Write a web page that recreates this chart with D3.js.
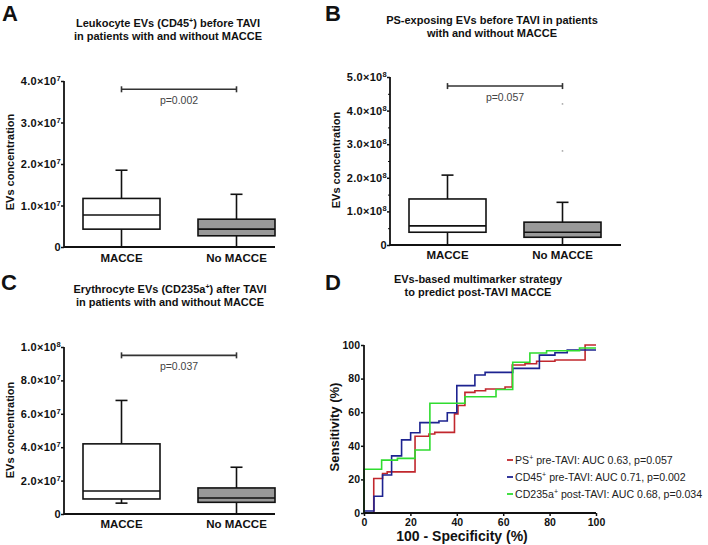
<!DOCTYPE html>
<html><head><meta charset="utf-8">
<script src="https://cdn.jsdelivr.net/npm/d3@7"></script>
<style>
body{margin:0;background:#fff}
svg{display:block;font-family:"Liberation Sans",Arial,sans-serif}
</style>
</head><body>
<svg id="c" width="708" height="545"></svg>
<script>
// ---------------- DATA ----------------
const groups = ["MACCE", "No MACCE"];
// box stats: [lower whisker, Q1, median, Q3, upper whisker]
const boxA_MACCE   = [0, 0.43e7, 0.77e7, 1.17e7, 1.85e7];
const boxA_NoMACCE = [0, 0.27e7, 0.43e7, 0.67e7, 1.27e7];
const boxB_MACCE   = [0, 0.38e8, 0.57e8, 1.37e8, 2.08e8];
const boxB_NoMACCE = [0, 0.23e8, 0.38e8, 0.68e8, 1.27e8];
const outliersB_NoMACCE = [4.2e8, 2.8e8];
const boxC_MACCE   = [0.65e7, 0.9e7, 1.38e7, 4.2e7, 6.8e7];
const boxC_NoMACCE = [0, 0.7e7, 0.96e7, 1.56e7, 2.8e7];

const ticksA = [0, 1e7, 2e7, 3e7, 4e7];
const tickLabelsA = ["0", "1.0×10|7", "2.0×10|7", "3.0×10|7", "4.0×10|7"];
const ticksB = [0, 1e8, 2e8, 3e8, 4e8, 5e8];
const tickLabelsB = ["0", "1.0×10|8", "2.0×10|8", "3.0×10|8", "4.0×10|8", "5.0×10|8"];
const minorTicksB = [0.5e8, 1.5e8, 2.5e8, 3.5e8, 4.5e8];
const ticksC = [0, 2e7, 4e7, 6e7, 8e7, 1e8];
const tickLabelsC = ["0", "2.0×10|7", "4.0×10|7", "6.0×10|7", "8.0×10|7", "1.0×10|8"];

const sigA = 3.8e7, pA = "p=0.002";
const sigB = 4.73e8, pB = "p=0.057";
const sigC = 9.5e7, pC = "p=0.037";

const titleA = ["Leukocyte EVs (CD45|+|) before TAVI", "in patients with and without MACCE"];
const titleB = ["PS-exposing EVs before TAVI in patients", "with and without MACCE"];
const titleC = ["Erythrocyte EVs (CD235a|+|) after TAVI", "in patients with and without MACCE"];
const titleD = ["EVs-based multimarker strategy", "to predict post-TAVI MACCE"];
const yLabelBox = "EVs concentration";

// ROC curves (step corners: x = 100-Specificity %, y = Sensitivity %)
const rocPS = [[0,0],[4.2,20.5],[8,23.5],[10,24.5],[22,45.7],[28,47],[30.5,48],[39,59],[40.5,64],[43.5,71.8],[47.8,72.8],[52.4,73.8],[60.8,75],[63.9,88.1],[69.4,88.8],[74.4,90.3],[82.3,91.1],[95.3,100],[100,100]];
const rocCD45 = [[0,0],[0,1.2],[4.3,10],[8,22.6],[11.9,34],[16.2,43.5],[20.1,47.8],[24.1,53.8],[32.3,54.8],[35.9,59.7],[40,75.8],[47.8,82.1],[52.2,83.7],[64.1,86.1],[75.6,94],[82.3,95.4],[87.6,97],[100,97]];
const rocCD235a = [[0,0],[0,26],[7.6,31.5],[14.4,32.5],[22,37.5],[28.4,65.3],[43.5,69.2],[56.9,73.5],[64.1,89.7],[71.5,95.2],[78.7,96.6],[92.9,98.2],[100,98.2]];
const rocTicks = [0, 20, 40, 60, 80, 100];
const legendLabels = ["PS|+| pre-TAVI: AUC 0.63, p=0.057", "CD45|+| pre-TAVI: AUC 0.71, p=0.002", "CD235a|+| post-TAVI: AUC 0.68, p=0.034"];
const rocColors = ["#c1272d", "#1d2390", "#2fdc2f"];

// ---------------- DRAW ----------------
const svg = d3.select("#c");
const INK = "#111";

function richText(sel, str, supSize, supShift) {
  // "a|b|c" -> b is superscript
  const parts = str.split("|");
  parts.forEach((p, i) => {
    if (!p) return;
    const t = sel.append("tspan").text(p);
    if (i % 2 === 1) t.attr("font-size", supSize).attr("dy", -supShift);
    else if (i > 0) t.attr("dy", supShift);
  });
}

function letter(x, y, s) {
  svg.append("text").attr("x", x).attr("y", y).attr("font-size", 22).attr("font-weight", "bold").attr("fill", INK).text(s);
}
function title(cx, y1, lines) {
  lines.forEach((l, i) => {
    const t = svg.append("text").attr("x", cx).attr("y", y1 + i * 12.5).attr("text-anchor", "middle")
      .attr("font-size", 11).attr("font-weight", "bold").attr("fill", INK);
    richText(t, l, 7, 4);
  });
}
function yLabel(x, cy, s, size) {
  svg.append("text").attr("transform", `translate(${x},${cy}) rotate(-90)`).attr("text-anchor", "middle")
    .attr("font-size", size).attr("font-weight", "bold").attr("fill", INK).text(s);
}

function boxPanel(o) {
  const y = d3.scaleLinear().domain(o.domain).range([o.y0, o.y1]);
  const x = d3.scaleBand().domain(groups).range([o.x0, o.x0 + 230]).paddingInner(0).paddingOuter(0);
  const g = svg.append("g");
  // y axis
  const ax = g.append("g").attr("transform", `translate(${o.x0},0)`)
    .call(d3.axisLeft(y).tickValues(o.ticks).tickSize(3).tickFormat(""));
  ax.select(".domain").remove();
  ax.selectAll(".tick line").attr("stroke", INK).attr("stroke-width", 1.5);
  if (o.minor) {
    g.append("g").attr("transform", `translate(${o.x0},0)`)
      .call(d3.axisLeft(y).tickValues(o.minor).tickSize(2).tickFormat(""))
      .call(s => { s.select(".domain").remove(); s.selectAll(".tick line").attr("stroke", INK).attr("stroke-width", 1); });
  }
  g.append("line").attr("x1", o.x0).attr("x2", o.x0).attr("y1", y(o.domain[0]) + 0.75).attr("y2", y(o.domain[1]))
    .attr("stroke", INK).attr("stroke-width", 1.8);
  g.append("line").attr("x1", o.x0).attr("x2", o.xEnd).attr("y1", y(0)).attr("y2", y(0))
    .attr("stroke", INK).attr("stroke-width", 1.8);
  // tick labels
  o.ticks.forEach((v, i) => {
    const t = g.append("text").attr("x", o.x0 - 3).attr("y", y(v) + 4).attr("text-anchor", "end")
      .attr("font-size", 11).attr("font-weight", "bold").attr("fill", INK).attr("letter-spacing", 0.3);
    richText(t, o.labels[i] + (o.labels[i].includes("|") ? "|" : ""), 7.5, 4);
  });
  // x labels
  groups.forEach(gname => {
    g.append("text").attr("x", x(gname) + x.bandwidth() / 2).attr("y", o.xlabY).attr("text-anchor", "middle")
      .attr("font-size", 11.5).attr("font-weight", "bold").attr("fill", INK).text(gname);
  });
  // boxes
  const bw = 77, cw = 12;
  [[groups[0], o.b1, "#fff"], [groups[1], o.b2, "#999"]].forEach(([gname, s, fill]) => {
    const cx = x(gname) + x.bandwidth() / 2;
    const bg = g.append("g").attr("stroke", INK).attr("stroke-width", 1.6);
    bg.append("line").attr("x1", cx).attr("x2", cx).attr("y1", y(s[0])).attr("y2", y(s[4]));
    bg.append("line").attr("x1", cx - cw / 2).attr("x2", cx + cw / 2).attr("y1", y(s[4])).attr("y2", y(s[4]));
    bg.append("line").attr("x1", cx - cw / 2).attr("x2", cx + cw / 2).attr("y1", y(s[0])).attr("y2", y(s[0]));
    bg.append("rect").attr("x", cx - bw / 2).attr("width", bw).attr("y", y(s[3])).attr("height", y(s[1]) - y(s[3]))
      .attr("fill", fill);
    bg.append("line").attr("x1", cx - bw / 2).attr("x2", cx + bw / 2).attr("y1", y(s[2])).attr("y2", y(s[2]));
  });
  if (o.out) {
    const cx = x(groups[1]) + x.bandwidth() / 2;
    o.out.forEach(v => g.append("circle").attr("cx", cx).attr("cy", y(v)).attr("r", 0.9).attr("fill", "#aaa"));
  }
  // significance bar
  const c1 = x(groups[0]) + x.bandwidth() / 2, c2 = x(groups[1]) + x.bandwidth() / 2;
  const sy = y(o.sig);
  const sg = g.append("g").attr("stroke", "#333").attr("stroke-width", 1.6);
  sg.append("line").attr("x1", c1).attr("x2", c2).attr("y1", sy).attr("y2", sy);
  sg.append("line").attr("x1", c1).attr("x2", c1).attr("y1", sy - 3).attr("y2", sy + 3);
  sg.append("line").attr("x1", c2).attr("x2", c2).attr("y1", sy - 3).attr("y2", sy + 3);
  g.append("text").attr("x", (c1 + c2) / 2).attr("y", sy + 14.5).attr("text-anchor", "middle")
    .attr("font-size", 10.5).attr("fill", "#444").text(o.p);
}

// Panel A
letter(2, 21, "A");
title(168, 27, titleA);
yLabel(14, 162, yLabelBox, 11);
boxPanel({x0: 64, xEnd: 275, y0: 247, y1: 81, domain: [0, 4e7], ticks: ticksA, labels: tickLabelsA,
  b1: boxA_MACCE, b2: boxA_NoMACCE, sig: sigA, p: pA, xlabY: 262});

// Panel B
letter(325, 21, "B");
title(492, 24, titleB);
yLabel(340, 160, yLabelBox, 11);
boxPanel({x0: 390, xEnd: 621, y0: 245, y1: 77, domain: [0, 5e8], ticks: ticksB, labels: tickLabelsB, minor: minorTicksB,
  b1: boxB_MACCE, b2: boxB_NoMACCE, out: outliersB_NoMACCE, sig: sigB, p: pB, xlabY: 259});

// Panel C
letter(1, 290, "C");
title(170, 293, titleC);
yLabel(14, 430, yLabelBox, 11);
boxPanel({x0: 64, xEnd: 275, y0: 514, y1: 347, domain: [0, 1e8], ticks: ticksC, labels: tickLabelsC,
  b1: boxC_MACCE, b2: boxC_NoMACCE, sig: sigC, p: pC, xlabY: 528});

// Panel D
letter(325, 290, "D");
title(478, 283, titleD);
(function () {
  const x = d3.scaleLinear().domain([0, 100]).range([364, 596]);
  const y = d3.scaleLinear().domain([0, 100]).range([513, 345]);
  const g = svg.append("g");
  const ax = g.append("g").attr("transform", "translate(0,513)")
    .call(d3.axisBottom(x).tickValues(rocTicks).tickSize(3).tickPadding(2));
  const ay = g.append("g").attr("transform", "translate(364,0)")
    .call(d3.axisLeft(y).tickValues(rocTicks).tickSize(3).tickPadding(1));
  [ax, ay].forEach(a => {
    a.select(".domain").remove();
    a.selectAll(".tick line").attr("stroke", INK).attr("stroke-width", 1.5);
    a.selectAll("text").attr("font-size", 10.5).attr("font-weight", "bold").attr("fill", INK)
      .attr("font-family", "Liberation Sans, Arial, sans-serif");
  });
  ax.selectAll("text").attr("dy", "0.72em");
  const line = d3.line().x(d => x(d[0])).y(d => y(d[1])).curve(d3.curveStepAfter);
  [rocPS, rocCD45, rocCD235a].forEach((r, i) => {
    g.append("path").attr("d", line(r)).attr("fill", "none").attr("stroke", rocColors[i]).attr("stroke-width", 1.6);
  });
  g.append("line").attr("x1", 364).attr("x2", 364).attr("y1", 513.75).attr("y2", 345).attr("stroke", INK).attr("stroke-width", 1.8);
  g.append("line").attr("x1", 364).attr("x2", 596).attr("y1", 513).attr("y2", 513).attr("stroke", INK).attr("stroke-width", 1.8);
  // legend
  legendLabels.forEach((l, i) => {
    const ly = 460 + i * 17;
    g.append("line").attr("x1", 507).attr("x2", 513).attr("y1", ly).attr("y2", ly).attr("stroke", rocColors[i]).attr("stroke-width", 1.8);
    const t = g.append("text").attr("x", 515).attr("y", ly + 4).attr("font-size", 10.6).attr("fill", "#222");
    richText(t, l, 7, 4);
  });
  yLabel(339, 427, "Sensitivity (%)", 13);
  svg.append("text").attr("x", 462).attr("y", 541).attr("text-anchor", "middle").attr("font-size", 14)
    .attr("font-weight", "bold").attr("fill", INK).text("100 - Specificity (%)");
})();
</script>
</body></html>
